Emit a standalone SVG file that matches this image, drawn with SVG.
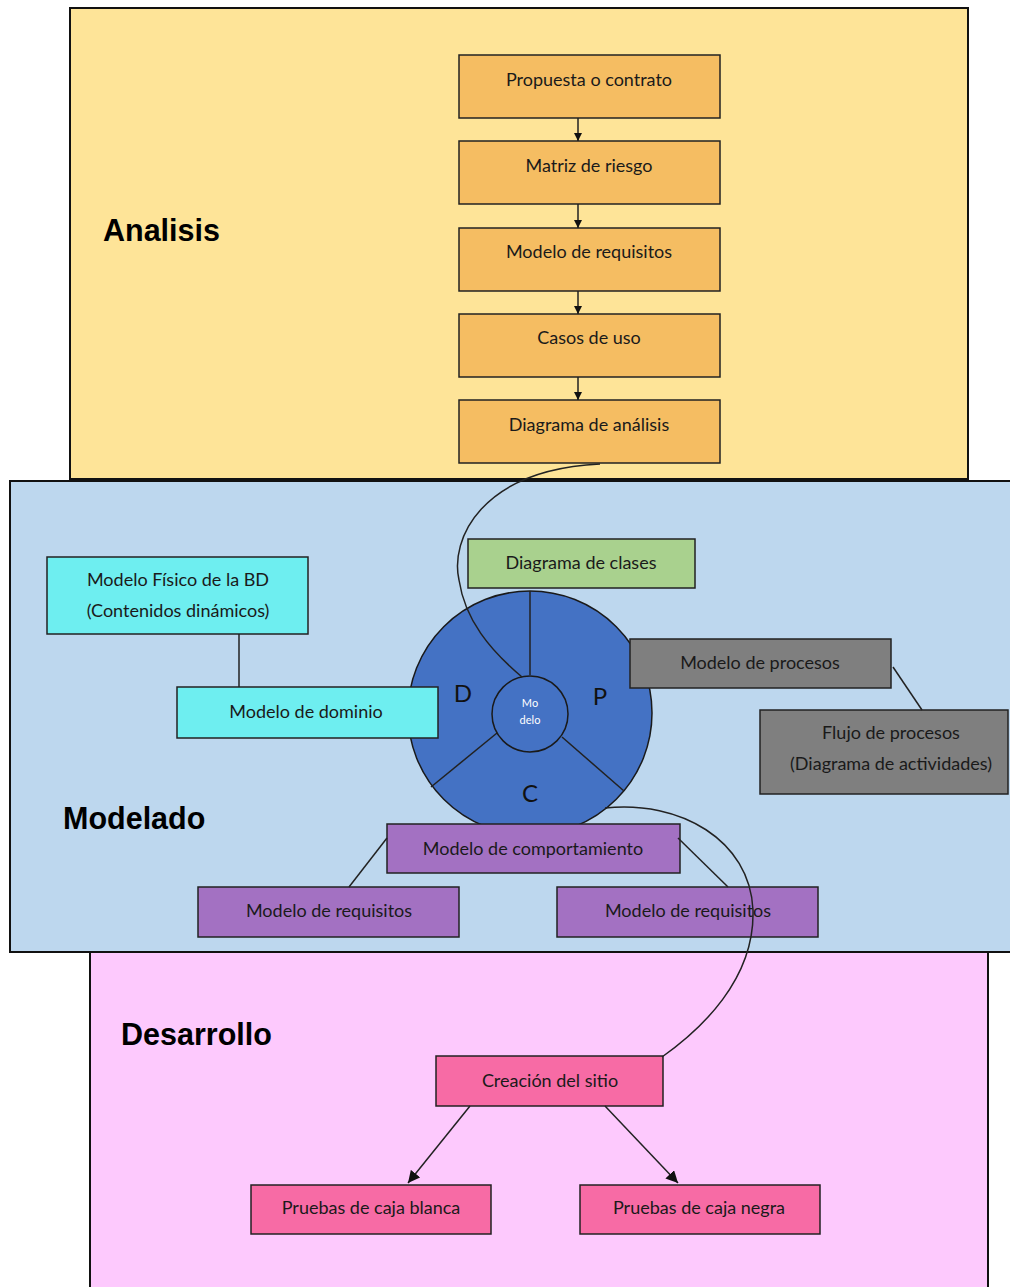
<svg xmlns="http://www.w3.org/2000/svg" width="1010" height="1287" viewBox="0 0 1010 1287">
<style>
.panel{stroke:#111;stroke-width:2}
.box{stroke:#222;stroke-width:1.5}
.t{font-family:Lato,"Liberation Sans",sans-serif;font-size:18px;fill:#1a1a1a;text-anchor:middle}
.title{font-family:"Liberation Sans",Arial,sans-serif;font-size:30.5px;font-weight:bold;fill:#000}
.ln{stroke:#222;stroke-width:1.5;fill:none}
.or{fill:#F5BD62}.gr{fill:#A9D18E}.cy{fill:#6EEEF0}.gy{fill:#7F7F7F}.pu{fill:#A371C2}.pk{fill:#F76BA5}
.letter{font-family:Lato,"Liberation Sans",sans-serif;font-size:24px;fill:#111;text-anchor:middle}
</style>
<defs>
<marker id="ah" viewBox="0 0 10 10" refX="10" refY="5" markerWidth="8" markerHeight="8" markerUnits="userSpaceOnUse" orient="auto">
<path d="M0,0 L10,5 L0,10 z" fill="#111"/>
</marker>
<marker id="ah2" viewBox="0 0 10 10" refX="10" refY="5" markerWidth="12" markerHeight="12" markerUnits="userSpaceOnUse" orient="auto">
<path d="M0,0 L10,5 L0,10 z" fill="#111"/>
</marker>
</defs>

<g id="panel-analisis">
<rect class="panel" x="70" y="8" width="898" height="471" fill="#FEE498"/>
<text class="title" x="103" y="241">Analisis</text>
</g>
<g id="panel-desarrollo">
<rect class="panel" x="90" y="952" width="898" height="340" fill="#FDC9FD"/>
<text class="title" x="121" y="1045">Desarrollo</text>
</g>
<g id="panel-modelado">
<rect class="panel" x="10" y="481" width="1010" height="471" fill="#BDD7EE"/>
<text class="title" x="63" y="829">Modelado</text>
</g>

<g id="modelo-circle">
<circle cx="530" cy="713" r="122" fill="#4472C4" stroke="#1a1a1a" stroke-width="1.5"/>
<line class="ln" x1="530" y1="591" x2="530" y2="675"/>
<line class="ln" x1="497" y1="733" x2="431" y2="787"/>
<line class="ln" x1="562" y1="737" x2="624" y2="791"/>
<circle cx="530" cy="714" r="38" fill="#4472C4" stroke="#1a1a1a" stroke-width="1.5"/>
<text x="530" y="707" font-family="Lato,'Liberation Sans',sans-serif" font-size="11" fill="#fff" text-anchor="middle">Mo</text>
<text x="530" y="724" font-family="Lato,'Liberation Sans',sans-serif" font-size="11" fill="#fff" text-anchor="middle">delo</text>
<text class="letter" x="463" y="702">D</text>
<text class="letter" x="600" y="705">P</text>
<text class="letter" x="530" y="802">C</text>
</g>

<g id="n-propuesta"><rect class="box or" x="459" y="55" width="261" height="63"/><text class="t" x="589" y="86">Propuesta o contrato</text></g>
<g id="n-matriz"><rect class="box or" x="459" y="141" width="261" height="63"/><text class="t" x="589" y="172">Matriz de riesgo</text></g>
<g id="n-requisitos-a"><rect class="box or" x="459" y="228" width="261" height="63"/><text class="t" x="589" y="258">Modelo de requisitos</text></g>
<g id="n-casos"><rect class="box or" x="459" y="314" width="261" height="63"/><text class="t" x="589" y="344">Casos de uso</text></g>
<g id="n-diagrama-analisis"><rect class="box or" x="459" y="400" width="261" height="63"/><text class="t" x="589" y="431">Diagrama de análisis</text></g>

<g id="n-clases"><rect class="box gr" x="468" y="539" width="227" height="49"/><text class="t" x="581" y="569">Diagrama de clases</text></g>
<g id="n-fisico"><rect class="box cy" x="47" y="557" width="261" height="77"/><text class="t" x="178" y="586">Modelo Físico de la BD</text><text class="t" x="178" y="617">(Contenidos dinámicos)</text></g>
<g id="n-dominio"><rect class="box cy" x="177" y="687" width="261" height="51"/><text class="t" x="306" y="718">Modelo de dominio</text></g>
<g id="n-procesos"><rect class="box gy" x="630" y="639" width="261" height="49"/><text class="t" x="760" y="669">Modelo de procesos</text></g>
<g id="n-flujo"><rect class="box gy" x="760" y="710" width="248" height="84"/><text class="t" x="891" y="739">Flujo de procesos</text><text class="t" x="891" y="770">(Diagrama de actividades)</text></g>
<g id="n-comportamiento"><rect class="box pu" x="387" y="824" width="293" height="49"/><text class="t" x="533" y="855">Modelo de comportamiento</text></g>
<g id="n-requisitos-l"><rect class="box pu" x="198" y="887" width="261" height="50"/><text class="t" x="329" y="917">Modelo de requisitos</text></g>
<g id="n-requisitos-r"><rect class="box pu" x="557" y="887" width="261" height="50"/><text class="t" x="688" y="917">Modelo de requisitos</text></g>

<g id="n-creacion"><rect class="box pk" x="436" y="1056" width="227" height="50"/><text class="t" x="550" y="1087">Creación del sitio</text></g>
<g id="n-blanca"><rect class="box pk" x="251" y="1185" width="240" height="49"/><text class="t" x="371" y="1214">Pruebas de caja blanca</text></g>
<g id="n-negra"><rect class="box pk" x="580" y="1185" width="240" height="49"/><text class="t" x="699" y="1214">Pruebas de caja negra</text></g>

<g id="connectors">
<line class="ln" x1="578" y1="118" x2="578" y2="141" marker-end="url(#ah)"/>
<line class="ln" x1="578" y1="204" x2="578" y2="228" marker-end="url(#ah)"/>
<line class="ln" x1="578" y1="291" x2="578" y2="314" marker-end="url(#ah)"/>
<line class="ln" x1="578" y1="377" x2="578" y2="400" marker-end="url(#ah)"/>
<path class="ln" d="M600,464 C480,470 450,540 459,580 C465,620 490,650 522,677"/>
<path class="ln" d="M605,808 C680,800 750,840 753,910 C755,980 700,1030 662,1057"/>
<line class="ln" x1="239" y1="634" x2="239" y2="687"/>
<line class="ln" x1="893" y1="667" x2="922" y2="710"/>
<line class="ln" x1="387" y1="838" x2="349" y2="887"/>
<line class="ln" x1="678" y1="838" x2="728" y2="887"/>
<line class="ln" x1="470" y1="1106" x2="408" y2="1183" marker-end="url(#ah2)"/>
<line class="ln" x1="605" y1="1106" x2="678" y2="1183" marker-end="url(#ah2)"/>
</g>
</svg>
